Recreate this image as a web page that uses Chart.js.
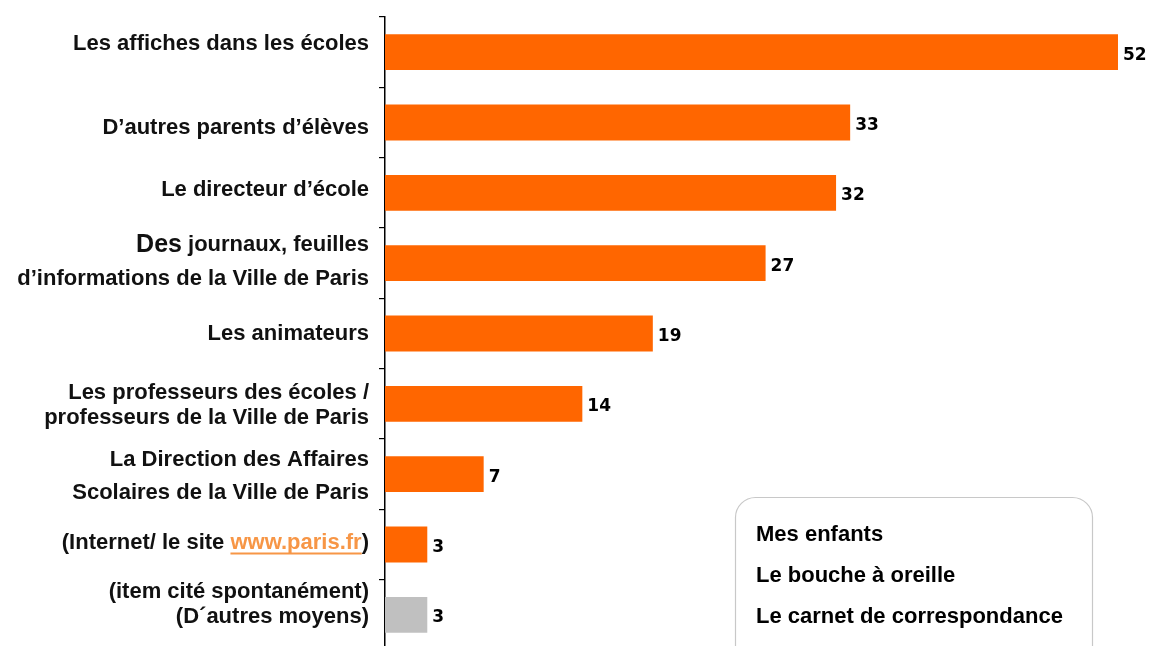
<!DOCTYPE html>
<html>
<head>
<meta charset="utf-8">
<script src="https://cdn.jsdelivr.net/npm/chart.js@4"></script>
<style>
  html, body { margin: 0; padding: 0; background: #fff; overflow: hidden; }
  #wrap { position: relative; width: 1149px; height: 652px; }
</style>
</head>
<body>
<div id="wrap"><canvas id="sourcesChart"></canvas></div>
<script>
// libellés (une entrée par ligne de texte)
var categories = [
    ["Les affiches dans les écoles"],
    ["D’autres parents d’élèves"],
    ["Le directeur d’école"],
    ["Des journaux, feuilles", "d’informations de la Ville de Paris"],
    ["Les animateurs"],
    ["Les professeurs des écoles /", "professeurs de la Ville de Paris"],
    ["La Direction des Affaires", "Scolaires de la Ville de Paris"],
    ["(Internet/ le site www.paris.fr)"],
    ["(item cité spontanément)", "(D´autres moyens)"]
];
var values = [52, 33, 32, 27, 19, 14, 7, 3, 3];
var spontaneous = [false, false, false, false, false, false, false, false, true];
var noteLines = ["Mes enfants", "Le bouche à oreille", "Le carnet de correspondance"];

var orange = "#FF6600";
var grey = "#C0C0C0";
var linkColor = "#F79646";
var labelFont = "bold 22px 'Liberation Sans', Arial, sans-serif";
var bigFont = "bold 25px 'Liberation Sans', Arial, sans-serif";
var valueFont = "bold 17px 'DejaVu Sans', Verdana, sans-serif";

// decalage vertical de chaque ligne par rapport au centre de la barre
var lineOffsets = [[-8], [5], [-3], [-18, 16], [0], [-11, 14], [-14, 19], [-2], [-23, 2]];

function drawRichLine(ctx, text, xRight, y) {
    // decoupe en segments: "Des" plus grand, url en orange souligne
    var segs = [];
    var m = text.match(/^(.*)(www\.paris\.fr)(.*)$/);
    if (m) {
        segs.push({t: m[1], f: labelFont, c: "#111"});
        segs.push({t: m[2], f: labelFont, c: linkColor, u: true});
        segs.push({t: m[3], f: labelFont, c: "#111"});
    } else if (text.indexOf("Des ") === 0) {
        segs.push({t: "Des", f: bigFont, c: "#111"});
        segs.push({t: text.slice(3), f: labelFont, c: "#111"});
    } else {
        segs.push({t: text, f: labelFont, c: "#111"});
    }
    var total = 0;
    segs.forEach(function (s) { ctx.font = s.f; s.w = ctx.measureText(s.t).width; total += s.w; });
    var x = xRight - total;
    ctx.textAlign = "left";
    ctx.textBaseline = "middle";
    segs.forEach(function (s) {
        ctx.font = s.f;
        ctx.fillStyle = s.c;
        ctx.fillText(s.t, x, y);
        if (s.u) {
            ctx.fillRect(x, y + 10, s.w, 2);
        }
        x += s.w;
    });
}

var customText = {
    id: 'customText',
    afterDraw: function (chart) {
        var ctx = chart.ctx;
        var yScale = chart.scales.y;
        var meta = chart.getDatasetMeta(0);
        ctx.save();
        // libelles des categories
        for (var i = 0; i < categories.length; i++) {
            var yc = yScale.getPixelForTick(i);
            for (var j = 0; j < categories[i].length; j++) {
                drawRichLine(ctx, categories[i][j], 369, yc + lineOffsets[i][j]);
            }
        }
        // valeurs au bout des barres
        ctx.font = valueFont;
        ctx.fillStyle = "#000";
        ctx.textAlign = "left";
        ctx.textBaseline = "middle";
        for (var k = 0; k < meta.data.length; k++) {
            var bar = meta.data[k];
            ctx.fillText(values[k], bar.x + 5, bar.y + 3);
        }
        // encadre des autres reponses
        ctx.strokeStyle = "#C8C8C8";
        ctx.lineWidth = 1.2;
        ctx.beginPath();
        ctx.roundRect(735.5, 497.5, 357, 180, 20);
        ctx.stroke();
        ctx.font = labelFont;
        ctx.fillStyle = "#000";
        var noteY = [535, 576, 617];
        for (var n = 0; n < noteLines.length; n++) {
            ctx.fillText(noteLines[n], 756, noteY[n]);
        }
        ctx.restore();
    }
};

document.addEventListener('DOMContentLoaded', function () {
    var ctx = document.getElementById('sourcesChart').getContext('2d');
    new Chart(ctx, {
        type: 'bar',
        data: {
            labels: categories.map(function (c) { return c.join(' '); }),
            datasets: [{
                data: values,
                backgroundColor: spontaneous.map(function (s) { return s ? grey : orange; }),
                barPercentage: 0.51,
                categoryPercentage: 1.0
            }]
        },
        options: {
            indexAxis: 'y',
            responsive: true,
            maintainAspectRatio: false,
            animation: false,
            events: [],
            layout: { padding: { left: 0, right: 0, top: 17, bottom: 2 } },
            plugins: { legend: { display: false }, tooltip: { enabled: false } },
            scales: {
                x: { display: false, min: 0, max: 54.2 },
                y: {
                    grid: { display: true, drawOnChartArea: false, drawTicks: true, tickLength: 6, color: "#000", offset: true, lineWidth: 1.2 },
                    border: { display: true, color: "#000", width: 1.5 },
                    ticks: { display: false },
                    afterFit: function (scale) { scale.width = 385; }
                }
            }
        },
        plugins: [customText]
    });
});
</script>
</body>
</html>
